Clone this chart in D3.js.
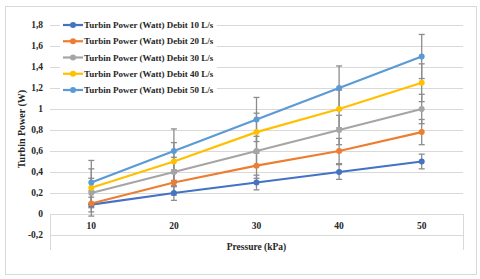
<!DOCTYPE html>
<html lang="en">
  <head>
    <meta charset="utf-8">
    <title>Turbin power vs pressure</title>
    <style>
      html, body { margin: 0; padding: 0; background: #fff; }
      svg { display: block; }
      text { font-family: "Liberation Serif", "Times New Roman", serif; font-weight: bold; fill: #262626; }
    </style>
  </head>
  <body>
    <div class="graph"></div>

    <script src="https://d3js.org/d3.v7.min.js"></script>
    <script>
      // pressure categories (kPa)
      var pressures = ['10', '20', '30', '40', '50'];

      var seriesNames = [
        'Turbin Power (Watt) Debit 10 L/s',
        'Turbin Power (Watt) Debit 20 L/s',
        'Turbin Power (Watt) Debit 30 L/s',
        'Turbin Power (Watt) Debit 40 L/s',
        'Turbin Power (Watt) Debit 50 L/s'
      ];
      var debit10 = [0.09, 0.2, 0.3, 0.4, 0.5];
      var debit20 = [0.1, 0.3, 0.46, 0.6, 0.78];
      var debit30 = [0.2, 0.4, 0.6, 0.8, 1.0];
      var debit40 = [0.25, 0.5, 0.78, 1.0, 1.25];
      var debit50 = [0.3, 0.6, 0.9, 1.2, 1.5];
      // error bar size per series (same for each point of a series)
      var errors = [0.07, 0.12, 0.14, 0.18, 0.21];

      var yTicks = [-0.2, 0, 0.2, 0.4, 0.6, 0.8, 1, 1.2, 1.4, 1.6, 1.8];

      var colors = ['#4472C4', '#ED7D31', '#A5A5A5', '#FFC000', '#5B9BD5'];
      var allValues = [debit10, debit20, debit30, debit40, debit50];

      var width = 480, height = 279;

      var svg = d3.select('.graph')
                  .append('svg')
                  .attr('width', width)
                  .attr('height', height);

      // chart area border
      svg.append('rect')
         .attr('x', 5.5).attr('y', 6.5)
         .attr('width', 471).attr('height', 268)
         .attr('fill', '#fff')
         .attr('stroke', '#D9D9D9')
         .attr('stroke-width', 1);

      var x = d3.scaleBand().domain(pressures).range([50, 463]);
      var y = d3.scaleLinear().domain([-0.2, 1.8]).range([235, 25]);

      var locale = d3.formatLocale({ decimal: ',', thousands: '.', grouping: [3], currency: ['', ''], minus: '-' });
      var fmt = locale.format('.1~f');

      // gridlines
      svg.append('g')
         .selectAll('line')
         .data(yTicks)
         .enter()
         .append('line')
         .attr('x1', 50).attr('x2', 463)
         .attr('y1', function(d) { return Math.round(y(d)) + 0.5; })
         .attr('y2', function(d) { return Math.round(y(d)) + 0.5; })
         .attr('stroke', '#D9D9D9')
         .attr('stroke-width', 1);

      // side lines of the category label area
      svg.append('g')
         .selectAll('line')
         .data([50, 463])
         .enter()
         .append('line')
         .attr('x1', function(d) { return d + 0.5; })
         .attr('x2', function(d) { return d + 0.5; })
         .attr('y1', y(0)).attr('y2', 250)
         .attr('stroke', '#D9D9D9');

      // y tick labels
      svg.append('g')
         .selectAll('text')
         .data(yTicks)
         .enter()
         .append('text')
         .attr('x', 43)
         .attr('y', function(d) { return y(d); })
         .attr('dy', '0.35em')
         .attr('text-anchor', 'end')
         .attr('font-size', 9.5)
         .text(function(d) { return fmt(d); });

      // x tick labels
      svg.append('g')
         .selectAll('text')
         .data(pressures)
         .enter()
         .append('text')
         .attr('x', function(d) { return x(d) + x.bandwidth() / 2; })
         .attr('y', 226)
         .attr('dy', '0.35em')
         .attr('text-anchor', 'middle')
         .attr('font-size', 9.5)
         .text(function(d) { return d; });

      // axis titles
      svg.append('text')
         .attr('x', (50 + 463) / 2)
         .attr('y', 247)
         .attr('dy', '0.35em')
         .attr('text-anchor', 'middle')
         .attr('font-size', 9.5)
         .text('Pressure (kPa)');

      svg.append('text')
         .attr('transform', 'translate(21,129) rotate(-90)')
         .attr('dy', '0.35em')
         .attr('text-anchor', 'middle')
         .attr('font-size', 10)
         .text('Turbin Power (W)');

      var series = seriesNames.map(function(name, i) {
        return {
          name: name,
          color: colors[i],
          err: errors[i],
          points: pressures.map(function(p, j) { return { p: p, v: allValues[i][j] }; })
        };
      });

      var cx = function(d) { return x(d.p) + x.bandwidth() / 2; };

      var line = d3.line()
                   .x(cx)
                   .y(function(d) { return y(d.v); });

      svg.append('g')
         .selectAll('path')
         .data(series)
         .enter()
         .append('path')
         .attr('d', function(s) { return line(s.points); })
         .attr('fill', 'none')
         .attr('stroke', function(s) { return s.color; })
         .attr('stroke-width', 2.2);

      // error bars
      var bars = svg.append('g')
                    .attr('stroke', '#8C8C8C')
                    .attr('stroke-width', 1.3);
      series.forEach(function(s) {
        var g = bars.append('g');
        s.points.forEach(function(d) {
          var px = cx(d), top = y(d.v + s.err), bot = y(d.v - s.err);
          g.append('line').attr('x1', px).attr('x2', px).attr('y1', top).attr('y2', bot);
          g.append('line').attr('x1', px - 3).attr('x2', px + 3).attr('y1', top).attr('y2', top);
          g.append('line').attr('x1', px - 3).attr('x2', px + 3).attr('y1', bot).attr('y2', bot);
        });
      });

      // markers
      svg.append('g')
         .selectAll('g')
         .data(series)
         .enter()
         .append('g')
         .attr('fill', function(s) { return s.color; })
         .selectAll('circle')
         .data(function(s) { return s.points; })
         .enter()
         .append('circle')
         .attr('cx', cx)
         .attr('cy', function(d) { return y(d.v); })
         .attr('r', 3);

      // legend
      var legend = svg.append('g');
      legend.append('rect')
            .attr('x', 60).attr('y', 17)
            .attr('width', 157).attr('height', 81)
            .attr('fill', '#fff');

      var rows = legend.selectAll('g')
                       .data(series)
                       .enter()
                       .append('g')
                       .attr('transform', function(s, i) { return 'translate(0,' + (25 + i * 16.25) + ')'; });
      rows.append('line')
          .attr('x1', 63).attr('x2', 83)
          .attr('stroke', function(s) { return s.color; })
          .attr('stroke-width', 2.2);
      rows.append('circle')
          .attr('cx', 73).attr('r', 3)
          .attr('fill', function(s) { return s.color; });
      rows.append('text')
          .attr('x', 84)
          .attr('dy', '0.35em')
          .attr('font-size', 9)
          .text(function(s) { return s.name; });
    </script>
  </body>
</html>
